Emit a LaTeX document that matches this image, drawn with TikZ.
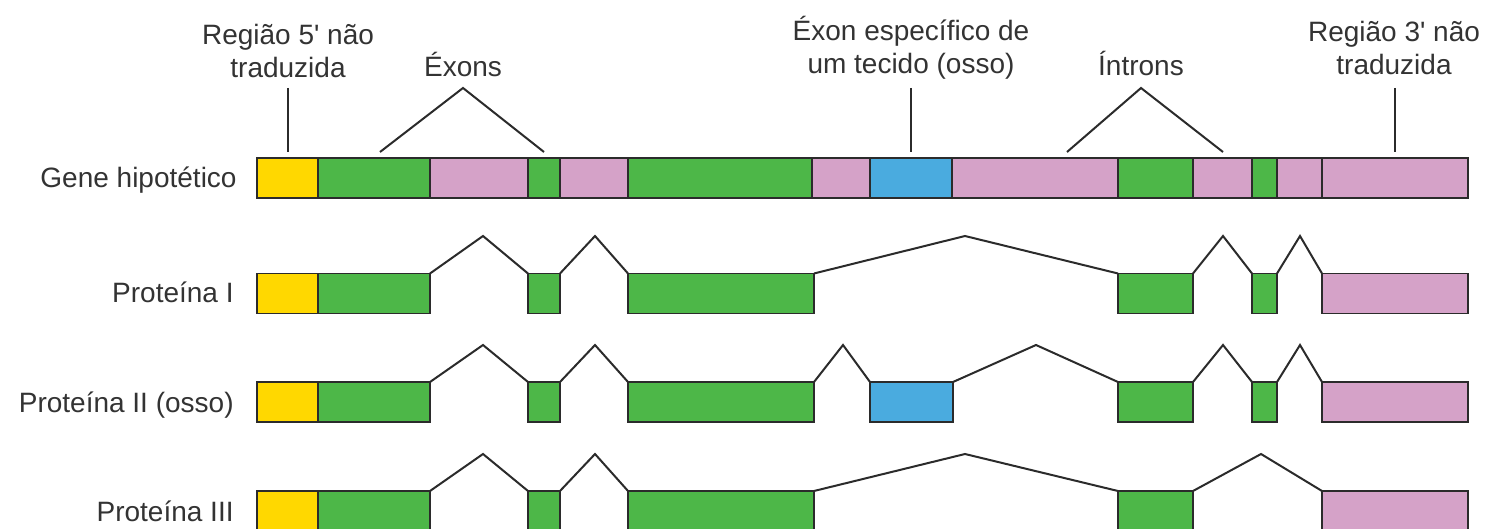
\documentclass[tikz,border=0pt]{standalone}
\usepackage{fontspec}
\setmainfont{Liberation Sans}
\definecolor{cyel}{HTML}{FFD800}
\definecolor{cgrn}{HTML}{4DB748}
\definecolor{cpnk}{HTML}{D5A2C8}
\definecolor{cblu}{HTML}{4AABDF}
\definecolor{cink}{HTML}{2B2B2B}
\definecolor{ctxt}{HTML}{333333}
\newcommand\exon[5]{\node[exbox,fill=#5,minimum width={(#3-#2)*0.5pt}] (#1) at ({(#2+#3)/2},#4) {};}
\begin{document}
\begin{tikzpicture}[x=0.5pt,y=-0.5pt,
  exbox/.style={draw=cink,line width=0.8pt,inner sep=0pt,outer sep=0pt,minimum height=20pt},
  lab/.style={font=\fontsize{14}{16.5}\selectfont,text=ctxt,align=center,inner sep=0pt},
  rowlab/.style={font=\fontsize{14}{16.5}\selectfont,text=ctxt,inner sep=0pt,anchor=base east},
  splice/.style={draw=cink,line width=1pt,line join=miter},
  pointer/.style={draw=cink,line width=1pt,line join=miter}]
\useasboundingbox (0,0) rectangle (1499,529);
\clip (0,0) rectangle (1499,529);
% labels on top
\node[lab,anchor=base] (l5) at (288,78) {Região 5\textquotesingle{} não\\traduzida};
\node[lab,anchor=base] (lex) at (463,77) {Éxons};
\node[lab,anchor=base] (lte) at (911,74) {Éxon específico de\\um tecido (osso)};
\node[lab,anchor=base] (lin) at (1141,76) {Íntrons};
\node[lab,anchor=base] (l3) at (1394,75) {Região 3\textquotesingle{} não\\traduzida};
% row labels
\node[rowlab] (rg) at (237,188) {Gene hipotético};
\node[rowlab] (r1) at (234,303) {Proteína I};
\node[rowlab] (r2) at (234,412) {Proteína II (osso)};
\node[rowlab] (r3) at (234,521) {Proteína III};
% gene
\exon{g1}{257}{318}{178}{cyel}
\exon{g2}{318}{430}{178}{cgrn}
\exon{g3}{430}{528}{178}{cpnk}
\exon{g4}{528}{560}{178}{cgrn}
\exon{g5}{560}{628}{178}{cpnk}
\exon{g6}{628}{812}{178}{cgrn}
\exon{g7}{812}{870}{178}{cpnk}
\exon{g8}{870}{952}{178}{cblu}
\exon{g9}{952}{1118}{178}{cpnk}
\exon{g10}{1118}{1193}{178}{cgrn}
\exon{g11}{1193}{1252}{178}{cpnk}
\exon{g12}{1252}{1277}{178}{cgrn}
\exon{g13}{1277}{1322}{178}{cpnk}
\exon{g14}{1322}{1468}{178}{cpnk}
\draw[cink,line width=1.3pt] (g6.north west) -- (g6.south west);
% pointers
\coordinate (a5) at (288,88); \coordinate (b5) at (288,152);
\draw[pointer] (a5) -- (b5);
\coordinate (aex) at (463,88); \coordinate (bex1) at (380,152); \coordinate (bex2) at (544,152);
\draw[pointer] (bex1) -- (aex) -- (bex2);
\coordinate (ate) at (911,88); \coordinate (bte) at (911,152);
\draw[pointer] (ate) -- (bte);
\coordinate (ain) at (1141,88); \coordinate (bin1) at (1067,152); \coordinate (bin2) at (1223,152);
\draw[pointer] (bin1) -- (ain) -- (bin2);
\coordinate (a3) at (1395,88); \coordinate (b3) at (1395,152);
\draw[pointer] (a3) -- (b3);
% protein I
\exon{pa1}{257}{318}{293.5}{cyel}
\exon{pa2}{318}{430}{293.5}{cgrn}
\exon{pa3}{528}{560}{293.5}{cgrn}
\exon{pa4}{628}{814}{293.5}{cgrn}
\exon{pa5}{1118}{1193}{293.5}{cgrn}
\exon{pa6}{1252}{1277}{293.5}{cgrn}
\exon{pa7}{1322}{1468}{293.5}{cpnk}
\coordinate (ka1) at (483,236); \coordinate (ka2) at (595,236); \coordinate (ka3) at (965,236);
\coordinate (ka4) at (1223,236); \coordinate (ka5) at (1300,236);
\draw[splice] (pa2.north east) -- (ka1) -- (pa3.north west);
\draw[splice] (pa3.north east) -- (ka2) -- (pa4.north west);
\draw[splice] (pa4.north east) -- (ka3) -- (pa5.north west);
\draw[splice] (pa5.north east) -- (ka4) -- (pa6.north west);
\draw[splice] (pa6.north east) -- (ka5) -- (pa7.north west);
% protein II
\exon{pb1}{257}{318}{402}{cyel}
\exon{pb2}{318}{430}{402}{cgrn}
\exon{pb3}{528}{560}{402}{cgrn}
\exon{pb4}{628}{814}{402}{cgrn}
\exon{pb5}{870}{953}{402}{cblu}
\exon{pb6}{1118}{1193}{402}{cgrn}
\exon{pb7}{1252}{1277}{402}{cgrn}
\exon{pb8}{1322}{1468}{402}{cpnk}
\coordinate (kb1) at (483,345); \coordinate (kb2) at (595,345); \coordinate (kb3) at (843,345);
\coordinate (kb4) at (1036,345); \coordinate (kb5) at (1223,345); \coordinate (kb6) at (1300,345);
\draw[splice] (pb2.north east) -- (kb1) -- (pb3.north west);
\draw[splice] (pb3.north east) -- (kb2) -- (pb4.north west);
\draw[splice] (pb4.north east) -- (kb3) -- (pb5.north west);
\draw[splice] (pb5.north east) -- (kb4) -- (pb6.north west);
\draw[splice] (pb6.north east) -- (kb5) -- (pb7.north west);
\draw[splice] (pb7.north east) -- (kb6) -- (pb8.north west);
% protein III
\exon{pc1}{257}{318}{511}{cyel}
\exon{pc2}{318}{430}{511}{cgrn}
\exon{pc3}{528}{560}{511}{cgrn}
\exon{pc4}{628}{814}{511}{cgrn}
\exon{pc5}{1118}{1193}{511}{cgrn}
\exon{pc6}{1322}{1468}{511}{cpnk}
\coordinate (kc1) at (483,454); \coordinate (kc2) at (595,454); \coordinate (kc3) at (965,454);
\coordinate (kc4) at (1261,454);
\draw[splice] (pc2.north east) -- (kc1) -- (pc3.north west);
\draw[splice] (pc3.north east) -- (kc2) -- (pc4.north west);
\draw[splice] (pc4.north east) -- (kc3) -- (pc5.north west);
\draw[splice] (pc5.north east) -- (kc4) -- (pc6.north west);
\end{tikzpicture}
\end{document}
